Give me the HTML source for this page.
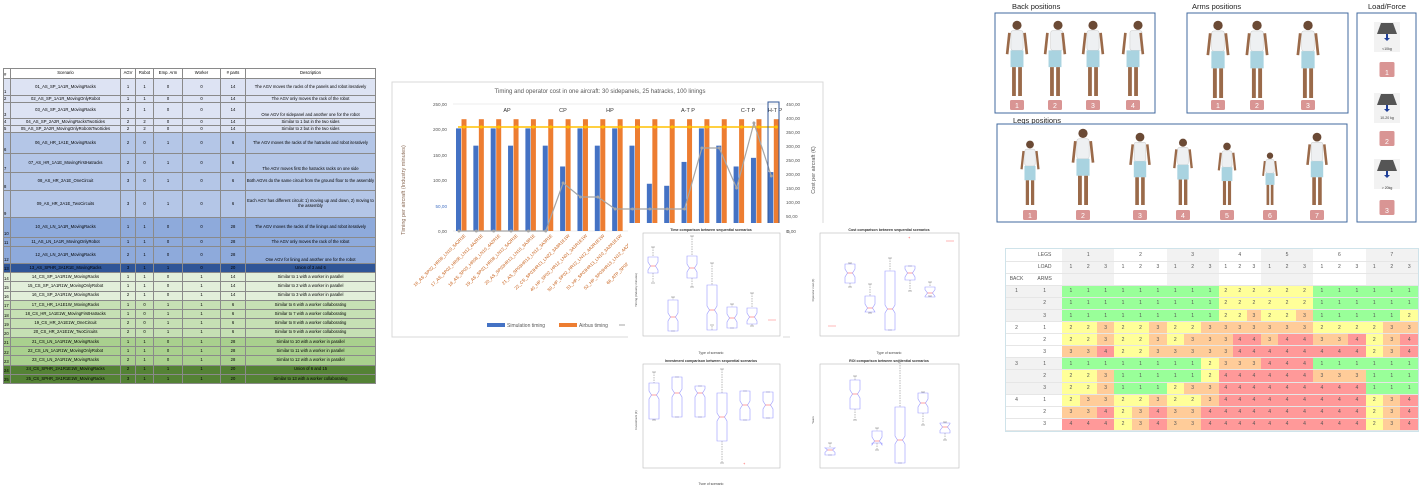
<!DOCTYPE html>
<html><head><meta charset="utf-8">
<style>
*{margin:0;padding:0;box-sizing:border-box}
body{width:1422px;height:485px;background:#fff;position:relative;overflow:hidden;font-family:"Liberation Sans",sans-serif}
.abs{position:absolute}
#lt{position:absolute;left:3px;top:68px;width:372px;border-collapse:collapse;font-size:4.2px;table-layout:fixed}
#lt td{border:0.5px solid #8a8a8a;text-align:center;vertical-align:middle;line-height:4.6px;overflow:hidden;white-space:nowrap}
#lt td.d{white-space:normal}
#lt td:first-child{text-align:left;vertical-align:bottom}
.r1{background:#dde3f3}.r2{background:#b4c6e7}.r3{background:#8eaadb}.r4{background:#2f5597}
.g1{background:#e2efda}.g2{background:#c6e0b4}.g3{background:#a9d08e}.g4{background:#548235}
#hm{left:1006px;top:249px;width:412px;border-collapse:collapse;font-size:5px;table-layout:fixed;color:#555;outline:1px solid #cfe3ea}
#hm td{text-align:center;height:12.1px;padding:0;border-bottom:0.5px solid #e6e6e6}
#hm td.a{background:#99ff99}#hm td.b{background:#ffff99}#hm td.c{background:#ffcc99}#hm td.e{background:#ff9999}
#hm td.h{background:#f2f2f2}
</style></head><body>

<table id="lt">
<colgroup><col style="width:7px"><col style="width:110px"><col style="width:15px"><col style="width:18px"><col style="width:29px"><col style="width:38px"><col style="width:25px"><col style="width:130px"></colgroup>
<tr style="height:10px"><td>#</td><td>Scenario</td><td>AGV</td><td>Robot</td><td>Emp. Arm</td><td>Worker</td><td># parts</td><td>Description</td></tr>
<tr class="r1" style="height:17px"><td>1</td><td>01_AS_SP_1A1R_MovingRacks</td><td>1</td><td>1</td><td>0</td><td>0</td><td>14</td><td class="d">The AGV moves the racks of the panels and robot iteratively</td></tr>
<tr class="r1" style="height:7px"><td>2</td><td>02_AS_SP_1A1R_MovingOnlyRobot</td><td>1</td><td>1</td><td>0</td><td>0</td><td>14</td><td>The AGV only moves the rack of the robot</td></tr>
<tr class="r1" style="height:16px"><td>3</td><td>03_AS_SP_2A1R_MovingRacks</td><td>2</td><td>1</td><td>0</td><td>0</td><td>14</td><td style="vertical-align:bottom">One AGV for sidepanel and another one for the robot</td></tr>
<tr class="r1" style="height:7px"><td>4</td><td>04_AS_SP_2A2R_MovingRacksTwoSides</td><td>2</td><td>2</td><td>0</td><td>0</td><td>14</td><td>Similar to 1 but in the two sides</td></tr>
<tr class="r1" style="height:7px"><td>5</td><td>05_AS_SP_2A2R_MovingOnlyRobotsTwoSides</td><td>2</td><td>2</td><td>0</td><td>0</td><td>14</td><td>Similar to 2 but in the two sides</td></tr>
<tr class="r2" style="height:21px"><td>6</td><td>06_AS_HR_1A1E_MovingRacks</td><td>2</td><td>0</td><td>1</td><td>0</td><td>6</td><td class="d">The AGV moves the racks of the hatracks and robot iteratively</td></tr>
<tr class="r2" style="height:19px"><td>7</td><td>07_AS_HR_1A1E_MovingFirstHatracks</td><td>2</td><td>0</td><td>1</td><td>0</td><td>6</td><td style="vertical-align:bottom">The AGV moves first the hatracks racks on one side</td></tr>
<tr class="r2" style="height:18px"><td>8</td><td>08_AS_HR_2A1E_OneCircuit</td><td>3</td><td>0</td><td>1</td><td>0</td><td>6</td><td class="d">Both AGVs do the same circuit from the ground floor to the assembly</td></tr>
<tr class="r2" style="height:27px"><td>9</td><td>09_AS_HR_2A1E_TwoCircuits</td><td>3</td><td>0</td><td>1</td><td>0</td><td>6</td><td class="d">Each AGV has different circuit: 1) moving up and down, 2) moving to the assembly</td></tr>
<tr class="r3" style="height:20px"><td>10</td><td>10_AS_LN_1A1R_MovingRacks</td><td>1</td><td>1</td><td>0</td><td>0</td><td>28</td><td class="d">The AGV moves the racks of the linings and robot iteratively</td></tr>
<tr class="r3" style="height:9px"><td>11</td><td>11_AS_LN_1A1R_MovingOnlyRobot</td><td>1</td><td>1</td><td>0</td><td>0</td><td>28</td><td>The AGV only moves the rack of the robot</td></tr>
<tr class="r3" style="height:17px"><td>12</td><td>12_AS_LN_2A1R_MovingRacks</td><td>2</td><td>1</td><td>0</td><td>0</td><td>28</td><td style="vertical-align:bottom">One AGV for lining and another one for the robot</td></tr>
<tr class="r4" style="height:9px"><td>13</td><td>13_AS_SPHR_3A1R1E_MovingRacks</td><td>3</td><td>1</td><td>1</td><td>0</td><td>20</td><td>Union of 3 and 6</td></tr>
<tr class="g1" style="height:9.25px"><td>14</td><td>14_CS_SP_1A1R1W_MovingRacks</td><td>1</td><td>1</td><td>0</td><td>1</td><td>14</td><td>Similar to 1 with a worker in parallel</td></tr>
<tr class="g1" style="height:9.25px"><td>15</td><td>15_CS_SP_1A1R1W_MovingOnlyRobot</td><td>1</td><td>1</td><td>0</td><td>1</td><td>14</td><td>Similar to 2 with a worker in parallel</td></tr>
<tr class="g1" style="height:9.25px"><td>16</td><td>16_CS_SP_2A1R1W_MovingRacks</td><td>2</td><td>1</td><td>0</td><td>1</td><td>14</td><td>Similar to 3 with a worker in parallel</td></tr>
<tr class="g2" style="height:9.25px"><td>17</td><td>17_CS_HR_1A1E1W_MovingRacks</td><td>1</td><td>0</td><td>1</td><td>1</td><td>6</td><td>Similar to 6 with a worker collaborating</td></tr>
<tr class="g2" style="height:9.25px"><td>18</td><td>18_CS_HR_1A1E1W_MovingFirstHatracks</td><td>1</td><td>0</td><td>1</td><td>1</td><td>6</td><td>Similar to 7 with a worker collaborating</td></tr>
<tr class="g2" style="height:9.25px"><td>19</td><td>19_CS_HR_2A1E1W_OneCircuit</td><td>2</td><td>0</td><td>1</td><td>1</td><td>6</td><td>Similar to 8 with a worker collaborating</td></tr>
<tr class="g2" style="height:9.25px"><td>20</td><td>20_CS_HR_2A1E1W_TwoCircuits</td><td>2</td><td>0</td><td>1</td><td>1</td><td>6</td><td>Similar to 9 with a worker collaborating</td></tr>
<tr class="g3" style="height:9.25px"><td>21</td><td>21_CS_LN_1A1R1W_MovingRacks</td><td>1</td><td>1</td><td>0</td><td>1</td><td>28</td><td>Similar to 10 with a worker in parallel</td></tr>
<tr class="g3" style="height:9.25px"><td>22</td><td>22_CS_LN_1A1R1W_MovingOnlyRobot</td><td>1</td><td>1</td><td>0</td><td>1</td><td>28</td><td>Similar to 11 with a worker in parallel</td></tr>
<tr class="g3" style="height:9.25px"><td>23</td><td>23_CS_LN_2A1R1W_MovingRacks</td><td>2</td><td>1</td><td>0</td><td>1</td><td>28</td><td>Similar to 12 with a worker in parallel</td></tr>
<tr class="g4" style="height:9.25px"><td>24</td><td>24_CS_SPHR_2A1R1E1W_MovingRacks</td><td>2</td><td>1</td><td>1</td><td>1</td><td>20</td><td>Union of 6 and 15</td></tr>
<tr class="g4" style="height:9.25px"><td>25</td><td>25_CS_SPHR_3A1R1E1W_MovingRacks</td><td>3</td><td>1</td><td>1</td><td>1</td><td>20</td><td>Similar to 13 with a worker collaborating</td></tr>
</table>

<svg class="abs" style="left:0;top:0" width="1422" height="485" id="main">
<rect x="392" y="82" width="431" height="255" fill="#fff" stroke="#d9d9d9"/>
<text x="600" y="93" font-size="6" fill="#595959" text-anchor="middle">Timing and operator cost in one aircraft: 30 sidepanels, 25 hatracks, 100 linings</text>
<g font-size="4.6" fill="#595959" text-anchor="end">
<text x="447" y="106">250,00</text><text x="447" y="131">200,00</text><text x="447" y="157">150,00</text><text x="447" y="182">100,00</text><text x="447" y="208" fill="#4472c4">50,00</text><text x="447" y="233">0,00</text>
</g>
<g font-size="4.6" fill="#595959">
<text x="786" y="106">450,00</text><text x="786" y="120">400,00</text><text x="786" y="134">350,00</text><text x="786" y="148">300,00</text><text x="786" y="162">250,00</text><text x="786" y="176">200,00</text><text x="786" y="190">150,00</text><text x="786" y="204">100,00</text><text x="786" y="218">50,00</text><text x="786" y="233">0,00</text>
</g>
<text transform="translate(405,190) rotate(-90)" font-size="5.5" fill="#8a6a55" text-anchor="middle">Timing per aircraft (Industry minutes)</text>
<text transform="translate(815,170) rotate(-90)" font-size="5.5" fill="#595959" text-anchor="middle">Cost per aircraft (€)</text>
<line x1="453" y1="104" x2="780" y2="104" stroke="#d9d9d9" stroke-width="0.6"/>
<line x1="453" y1="231" x2="780" y2="231" stroke="#d9d9d9" stroke-width="0.6"/>
<g id="bars"></g>
<g font-size="5.5" fill="#333" text-anchor="middle">
<text x="507" y="112">AP</text><text x="563" y="112">CP</text><text x="610" y="112">HP</text><text x="688" y="112">A-T P</text><text x="748" y="112">C-T P</text><text x="775" y="112">H-T P</text>
</g>
<rect x="768" y="102" width="11" height="122" fill="none" stroke="#2f5597" stroke-width="1"/>
<g font-size="4.4" fill="#c55a11" id="xl"></g>
<rect x="487" y="323" width="18" height="4" fill="#4472c4"/><text x="507" y="327" font-size="5" fill="#595959">Simulation timing</text>
<rect x="559" y="323" width="18" height="4" fill="#ed7d31"/><text x="579" y="327" font-size="5" fill="#595959">Airbus timing</text>
<line x1="619" y1="325" x2="625" y2="325" stroke="#a5a5a5"/>

<rect x="628" y="223" width="155" height="262" fill="#fff"/>
<rect x="790" y="223" width="200" height="262" fill="#fff"/>
<text x="787" y="233" font-size="4.6" fill="#595959">0,00</text>
<g fill="none" stroke="#bbb" stroke-width="0.6">
<rect x="643" y="233" width="137" height="103"/><rect x="820" y="233" width="139" height="103"/>
<rect x="643" y="364" width="137" height="104"/><rect x="820" y="364" width="139" height="104"/>
</g>
<g font-size="3.6" font-weight="bold" fill="#333" text-anchor="middle">
<text x="711" y="231">Time comparison between sequential scenarios</text>
<text x="889" y="231">Cost comparison between sequential scenarios</text>
<text x="711" y="362">Investment comparison between sequential scenarios</text>
<text x="889" y="362">ROI comparison between sequential scenarios</text>
</g>
<g font-size="3.4" fill="#444" text-anchor="middle">
<text x="711" y="354">Type of scenario</text><text x="889" y="354">Type of scenario</text><text x="711" y="485">Type of scenario</text>
</g>
<g font-size="3" fill="#444">
<text transform="translate(637,290) rotate(-90)" text-anchor="middle">Timing (Industry minutes)</text>
<text transform="translate(814,290) rotate(-90)" text-anchor="middle">Operator cost (€)</text>
<text transform="translate(637,420) rotate(-90)" text-anchor="middle">Investment (€)</text>
<text transform="translate(814,420) rotate(-90)" text-anchor="middle">Years</text>
</g>
<g id="bx" fill="none"></g>

<g font-size="7.5" fill="#222">
<text x="1012" y="9">Back positions</text><text x="1192" y="9">Arms positions</text><text x="1013" y="123">Legs positions</text><text x="1368" y="9">Load/Force</text>
</g>
<g fill="none" stroke="#41699f" stroke-width="1">
<rect x="995" y="13" width="160" height="100"/><rect x="1187" y="13" width="161" height="100"/>
<rect x="997" y="124" width="350" height="98"/><rect x="1357" y="13" width="59" height="209"/>
</g>
<g id="figs"></g>
<g font-size="3.5" fill="#333" text-anchor="middle">
<text x="1387" y="50">&lt;10kg</text><text x="1387" y="119">10-20 kg</text><text x="1387" y="189">&gt; 20kg</text>
</g>
<g font-size="7" fill="#fff" text-anchor="middle" id="badges"></g>
</svg>

<table id="hm" class="abs">
<colgroup><col style="width:21px"><col style="width:35px"><col span="9" style="width:17.33px"><col span="3" style="width:14px"><col span="9" style="width:17.4px"></colgroup>
<tr><td></td><td>LEGS</td><td class="h"></td><td class="h">1</td><td class="h"></td><td></td><td>2</td><td></td><td class="h"></td><td class="h">3</td><td class="h"></td><td></td><td>4</td><td></td><td class="h"></td><td class="h">5</td><td class="h"></td><td></td><td>6</td><td></td><td class="h"></td><td class="h">7</td><td class="h"></td></tr>
<tr><td></td><td>LOAD</td><td class="h">1</td><td class="h">2</td><td class="h">3</td><td>1</td><td>2</td><td>3</td><td class="h">1</td><td class="h">2</td><td class="h">3</td><td>1</td><td>2</td><td>3</td><td class="h">1</td><td class="h">2</td><td class="h">3</td><td>1</td><td>2</td><td>3</td><td class="h">1</td><td class="h">2</td><td class="h">3</td></tr>
<tr><td>BACK</td><td>ARMS</td><td class="h"></td><td class="h"></td><td class="h"></td><td></td><td></td><td></td><td class="h"></td><td class="h"></td><td class="h"></td><td></td><td></td><td></td><td class="h"></td><td class="h"></td><td class="h"></td><td></td><td></td><td></td><td class="h"></td><td class="h"></td><td class="h"></td></tr>
<tr><td class="h">1</td><td class="h">1</td><td class=a>1<td class=a>1<td class=a>1<td class=a>1<td class=a>1<td class=a>1<td class=a>1<td class=a>1<td class=a>1<td class=b>2<td class=b>2<td class=b>2<td class=b>2<td class=b>2<td class=b>2<td class=a>1<td class=a>1<td class=a>1<td class=a>1<td class=a>1<td class=a>1</tr>
<tr><td class="h"></td><td class="h">2</td><td class=a>1<td class=a>1<td class=a>1<td class=a>1<td class=a>1<td class=a>1<td class=a>1<td class=a>1<td class=a>1<td class=b>2<td class=b>2<td class=b>2<td class=b>2<td class=b>2<td class=b>2<td class=a>1<td class=a>1<td class=a>1<td class=a>1<td class=a>1<td class=a>1</tr>
<tr><td class="h"></td><td class="h">3</td><td class=a>1<td class=a>1<td class=a>1<td class=a>1<td class=a>1<td class=a>1<td class=a>1<td class=a>1<td class=a>1<td class=b>2<td class=b>2<td class=c>3<td class=b>2<td class=b>2<td class=c>3<td class=a>1<td class=a>1<td class=a>1<td class=a>1<td class=a>1<td class=b>2</tr>
<tr><td>2</td><td>1</td><td class=b>2<td class=b>2<td class=c>3<td class=b>2<td class=b>2<td class=c>3<td class=b>2<td class=b>2<td class=c>3<td class=c>3<td class=c>3<td class=c>3<td class=c>3<td class=c>3<td class=c>3<td class=b>2<td class=b>2<td class=b>2<td class=b>2<td class=c>3<td class=c>3</tr>
<tr><td></td><td>2</td><td class=b>2<td class=b>2<td class=c>3<td class=b>2<td class=b>2<td class=c>3<td class=b>2<td class=c>3<td class=c>3<td class=c>3<td class=e>4<td class=e>4<td class=c>3<td class=e>4<td class=e>4<td class=c>3<td class=c>3<td class=e>4<td class=b>2<td class=c>3<td class=e>4</tr>
<tr><td></td><td>3</td><td class=c>3<td class=c>3<td class=e>4<td class=b>2<td class=b>2<td class=c>3<td class=c>3<td class=c>3<td class=c>3<td class=c>3<td class=e>4<td class=e>4<td class=e>4<td class=e>4<td class=e>4<td class=e>4<td class=e>4<td class=e>4<td class=b>2<td class=c>3<td class=e>4</tr>
<tr><td class="h">3</td><td class="h">1</td><td class=a>1<td class=a>1<td class=a>1<td class=a>1<td class=a>1<td class=a>1<td class=a>1<td class=a>1<td class=b>2<td class=c>3<td class=c>3<td class=c>3<td class=e>4<td class=e>4<td class=e>4<td class=a>1<td class=a>1<td class=a>1<td class=a>1<td class=a>1<td class=a>1</tr>
<tr><td class="h"></td><td class="h">2</td><td class=b>2<td class=b>2<td class=c>3<td class=a>1<td class=a>1<td class=a>1<td class=a>1<td class=a>1<td class=b>2<td class=e>4<td class=e>4<td class=e>4<td class=e>4<td class=e>4<td class=e>4<td class=c>3<td class=c>3<td class=c>3<td class=a>1<td class=a>1<td class=a>1</tr>
<tr><td class="h"></td><td class="h">3</td><td class=b>2<td class=b>2<td class=c>3<td class=a>1<td class=a>1<td class=a>1<td class=b>2<td class=c>3<td class=c>3<td class=e>4<td class=e>4<td class=e>4<td class=e>4<td class=e>4<td class=e>4<td class=e>4<td class=e>4<td class=e>4<td class=a>1<td class=a>1<td class=a>1</tr>
<tr><td>4</td><td>1</td><td class=b>2<td class=c>3<td class=c>3<td class=b>2<td class=b>2<td class=c>3<td class=b>2<td class=b>2<td class=c>3<td class=e>4<td class=e>4<td class=e>4<td class=e>4<td class=e>4<td class=e>4<td class=e>4<td class=e>4<td class=e>4<td class=b>2<td class=c>3<td class=e>4</tr>
<tr><td></td><td>2</td><td class=c>3<td class=c>3<td class=e>4<td class=b>2<td class=c>3<td class=e>4<td class=c>3<td class=c>3<td class=e>4<td class=e>4<td class=e>4<td class=e>4<td class=e>4<td class=e>4<td class=e>4<td class=e>4<td class=e>4<td class=e>4<td class=b>2<td class=c>3<td class=e>4</tr>
<tr><td></td><td>3</td><td class=e>4<td class=e>4<td class=e>4<td class=b>2<td class=c>3<td class=e>4<td class=c>3<td class=c>3<td class=e>4<td class=e>4<td class=e>4<td class=e>4<td class=e>4<td class=e>4<td class=e>4<td class=e>4<td class=e>4<td class=e>4<td class=b>2<td class=c>3<td class=e>4</tr>
</table>

<script>
var NS="http://www.w3.org/2000/svg";
function el(p,t,a){var e=document.createElementNS(NS,t);for(var k in a)e.setAttribute(k,a[k]);p.appendChild(e);return e;}
function pl(){var a=[];for(var i=0;i<arguments.length;i+=2)a.push(arguments[i]+","+arguments[i+1]);return a.join(" ");}
var g=document.getElementById("bars");
var blue=[202,168,202,168,202,168,127,202,168,202,168,93,89,136,202,168,127,144,116];
var gs=17.35,x0=456,k=0.508;
for(var i=0;i<19;i++){
 var bx=x0+gs*i;var bh=blue[i]*k;
 el(g,"rect",{x:bx,y:231-bh,width:5,height:bh,fill:"#4472c4"});
 el(g,"rect",{x:bx+5.5,y:119.2,width:5,height:231-119.2,fill:"#ed7d31"});
}
el(g,"line",{x1:x0+2,y1:127,x2:x0+gs*18+8,y2:127,stroke:"#ffc000","stroke-width":1.5});
for(var i=0;i<19;i++)el(g,"circle",{cx:x0+gs*i+8,cy:127,r:1.6,fill:"#ffc000"});
var gv=[231,231,231,231,231,231,183,197,197,209,209,209,209,209,148,148,188,123,176];
var pts=[];for(var i=0;i<19;i++)pts.push((x0+gs*i+3)+","+gv[i]);
el(g,"polyline",{points:pts.join(" "),fill:"none",stroke:"#a5a5a5","stroke-width":1.2});
pts.forEach(function(p){var c=p.split(",");el(g,"circle",{cx:c[0],cy:c[1],r:1.5,fill:"#a5a5a5"});});
var xl=document.getElementById("xl");
var labs=["16_AS_SP02_HR06_LN10_5A2R1E","17_AS_SP02_HR06_LN12_4A2R1E","18_AS_SP03_HR08_LN10_4A2R1E","19_AS_SP03_HR08_LN12_5A2R1E","20_AS_SP03HR13_LN10_3A3R1E","21_AS_SP03HR13_LN12_3A3R1E","22_CS_SP03HR13_LN22_3A3R1E1W","40_HP_SP02_HR12_LN01_3A1R1E1W","50_HP_SP02_HR12_LN12_4A2R1E1W","51_HP_SP03HR13_LN10_3A2R1E1W","52_HP_SP03HR13_LN12_4A2R1E1W","66_ATP_SP02_HR06_LN01_3A1R","67_ATP_SP02_HR06","68_ATP"];
for(var i=0;i<labs.length;i++){var t=el(xl,"text",{transform:"translate("+(x0+gs*i+10)+",236) rotate(-45)","text-anchor":"end"});t.textContent=labs[i];}
var bxg=document.getElementById("bx");
function box(x,w1,w2,b1,b2,m,hw){hw=hw||5;
 el(bxg,"line",{x1:x,y1:w1,x2:x,y2:b1,stroke:"#777","stroke-width":0.5,"stroke-dasharray":"1.5,1"});
 el(bxg,"line",{x1:x,y1:b2,x2:x,y2:w2,stroke:"#777","stroke-width":0.5,"stroke-dasharray":"1.5,1"});
 el(bxg,"line",{x1:x-2,y1:w1,x2:x+2,y2:w1,stroke:"#777","stroke-width":0.5});
 el(bxg,"line",{x1:x-2,y1:w2,x2:x+2,y2:w2,stroke:"#777","stroke-width":0.5});
 var n=Math.min(4,(b2-b1)/3);
 el(bxg,"polygon",{points:pl(x-hw,b1,x+hw,b1,x+hw,m-n,x+hw*0.5,m,x+hw,m+n,x+hw,b2,x-hw,b2,x-hw,m+n,x-hw*0.5,m,x-hw,m-n),stroke:"#9999ff","stroke-width":0.6,fill:"none"});
 el(bxg,"line",{x1:x-hw*0.5,y1:m,x2:x+hw*0.5,y2:m,stroke:"#ff6666","stroke-width":0.6});
}
function ln(x,y){el(bxg,"line",{x1:x-4,y1:y,x2:x+4,y2:y,stroke:"#ff8888","stroke-width":0.6});}
box(653,247,283,257,273,266);box(673,297,331,300,331,317);box(692,236,287,256,278,268);box(712,263,325,285,330,310);box(732,304,328,307,328,318);box(752,293,326,308,324,317);ln(772,320);
ln(832,326);box(850,263,287,264,283,273);box(870,284,313,296,312,308);box(890,258,330,271,330,309);box(910,266,291,266,280,273);box(930,282,296,287,297,293);ln(950,241);
el(bxg,"text",{x:908,y:239,"font-size":4,fill:"#f44"}).textContent="+";
box(654,372,420,383,419,395);box(677,377,417,377,417,393);box(700,386,417,386,417,393);box(722,369,463,393,441,417);box(745,391,420,391,420,405);box(768,392,418,392,418,405);
el(bxg,"text",{x:743,y:465,"font-size":4,fill:"#f44"}).textContent="+";
box(830,443,455,448,455,450);box(855,376,420,380,409,394);box(877,428,450,431,443,441);box(900,360,463,407,463,440);box(923,392,425,393,413,403);box(945,422,440,423,433,427);
var fg=document.getElementById("figs");
function person(cx,top,bot,bend){
 var h=bot-top;var skin="#9a6a4a";
 el(fg,"circle",{cx:cx+bend,cy:top+h*0.07,r:h*0.06,fill:"#6b4a35"});
 el(fg,"rect",{x:cx-h*0.08+bend*0.6,y:top+h*0.14,width:h*0.16,height:h*0.26,fill:"#eef0f2",stroke:"#bbb","stroke-width":0.4,rx:2});
 el(fg,"rect",{x:cx-h*0.085,y:top+h*0.4,width:h*0.17,height:h*0.22,fill:"#a9d3e0"});
 el(fg,"line",{x1:cx-h*0.04,y1:top+h*0.62,x2:cx-h*0.04,y2:bot,stroke:skin,"stroke-width":h*0.05});
 el(fg,"line",{x1:cx+h*0.04,y1:top+h*0.62,x2:cx+h*0.04,y2:bot,stroke:skin,"stroke-width":h*0.05});
 el(fg,"line",{x1:cx-h*0.1,y1:top+h*0.17,x2:cx-h*0.13,y2:top+h*0.45,stroke:skin,"stroke-width":h*0.035});
 el(fg,"line",{x1:cx+h*0.1,y1:top+h*0.17,x2:cx+h*0.13,y2:top+h*0.45,stroke:skin,"stroke-width":h*0.035});
}
[[1017,0],[1055,3],[1093,0],[1133,5]].forEach(function(p){person(p[0],20,96,p[1]);});
[1218,1257,1308].forEach(function(x){person(x,20,98,0);});
[[1030,140],[1083,128],[1140,132],[1183,138],[1227,142],[1270,152],[1317,132]].forEach(function(p){person(p[0],p[1],205,0);});
var bd=document.getElementById("badges");
function badge(x,y,n,w,h){w=w||14;h=h||10;el(fg,"rect",{x:x-w/2,y:y,width:w,height:h,rx:1.5,fill:"#d99594"});var t=el(bd,"text",{x:x,y:y+h-2});t.textContent=n;}
[1017,1055,1093,1133].forEach(function(x,i){badge(x,100,i+1);});
[1218,1257,1308].forEach(function(x,i){badge(x,100,i+1);});
[1030,1083,1140,1183,1227,1270,1317].forEach(function(x,i){badge(x,210,i+1);});
[62,131,200].forEach(function(y,i){badge(1387,y,i+1,15,15);});
[23,94,160].forEach(function(y){el(fg,"rect",{x:1374,y:y-1,width:26,height:30,fill:"#f2f2f2"});el(fg,"polygon",{points:pl(1381,y,1393,y,1397,y+11,1377,y+11),fill:"#555"});el(fg,"rect",{x:1386,y:y+11,width:2,height:4,fill:"#1f3f99"});el(fg,"polygon",{points:pl(1384,y+15,1390,y+15,1387,y+18),fill:"#1f3f99"});});
</script>
</body></html>
